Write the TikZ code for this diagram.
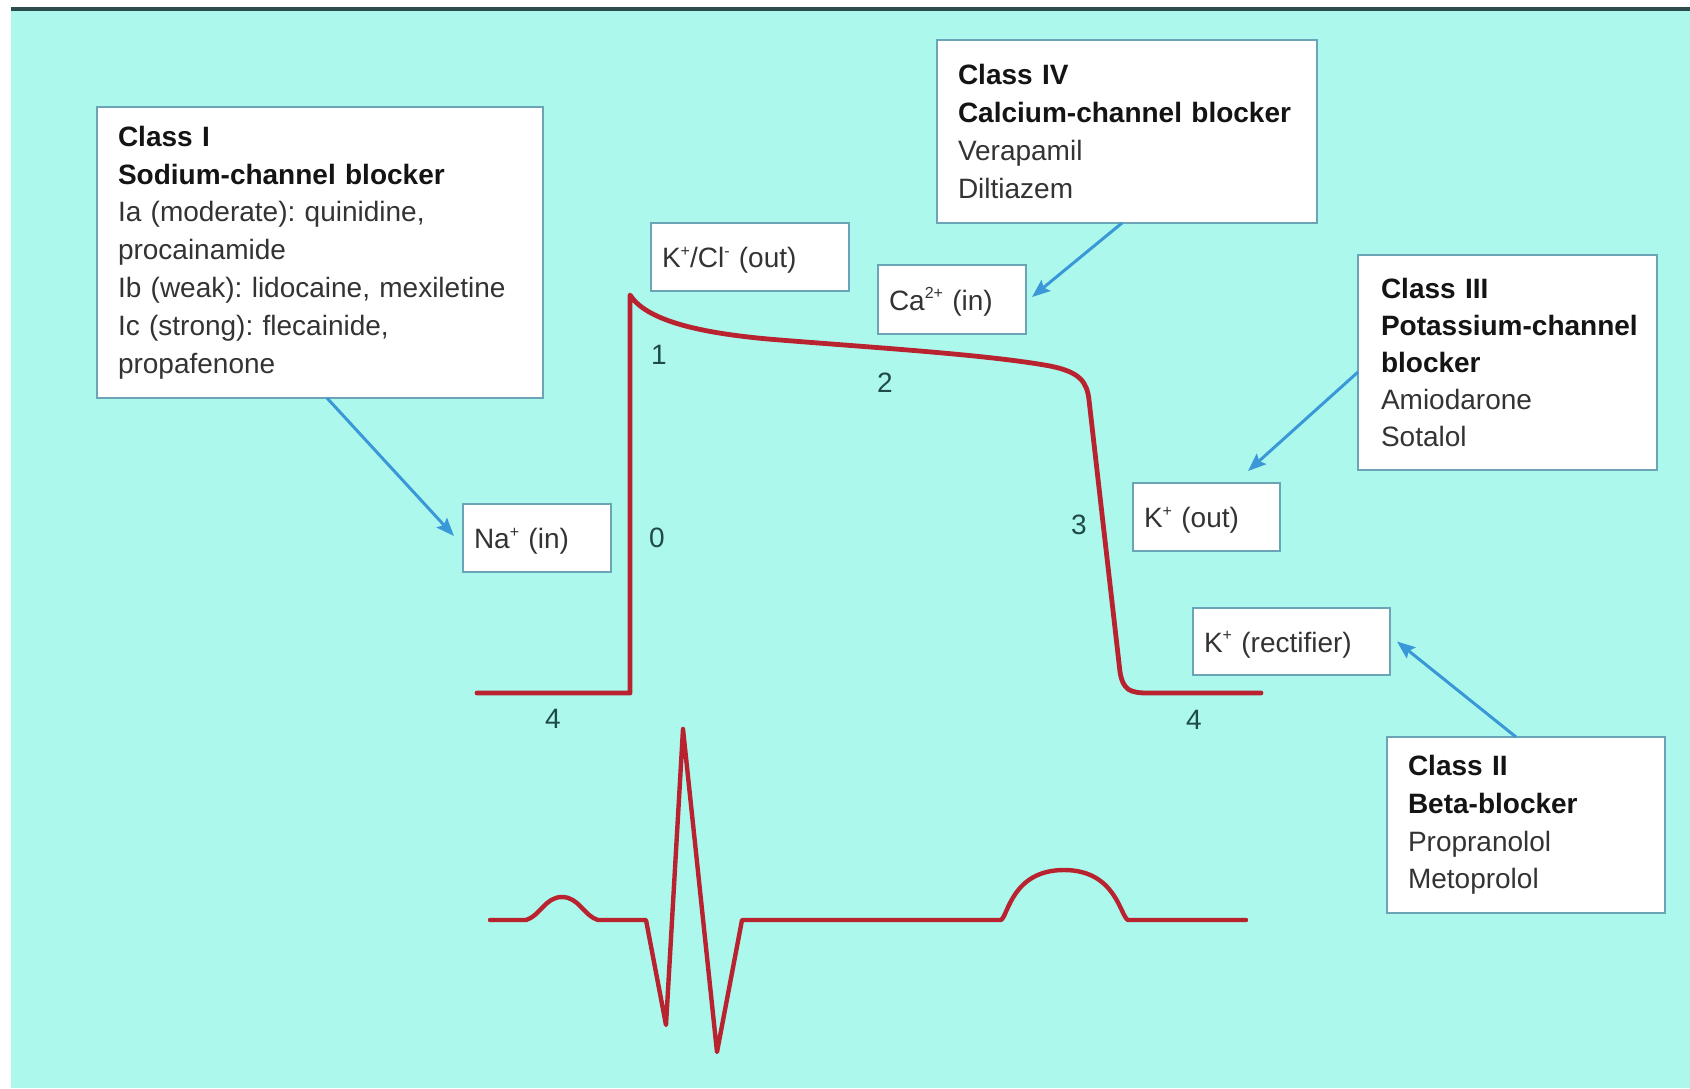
\documentclass[tikz,border=0pt]{standalone}
\usepackage{fontspec}
\setmainfont{Liberation Sans}
\usetikzlibrary{arrows.meta,calc}
\definecolor{bgc}{HTML}{ADF8EC}
\definecolor{topc}{HTML}{2C4B4B}
\definecolor{boxc}{HTML}{6AA4B6}
\definecolor{txtc}{HTML}{333333}
\definecolor{hdc}{HTML}{141414}
\definecolor{numc}{HTML}{1F4A45}
\definecolor{redc}{HTML}{B8232F}
\definecolor{bluec}{HTML}{3A98D8}
\newcommand{\clshead}[1]{{\color{hdc}\bfseries #1}}
\newcommand{\ionsup}[1]{\raisebox{0.75ex}{\fontsize{8}{8}\selectfont #1}}
\frenchspacing
\begin{document}
\frenchspacing
\begin{tikzpicture}[x=0.5pt,y=-0.5pt,
  bigbox/.style={draw=boxc, fill=white, line width=1pt, outer sep=0pt, anchor=north west,
    align=left, inner xsep=10.5pt, inner ysep=0pt, text=txtc,
    font=\fontsize{14}{18.9}\selectfont\frenchspacing},
  ionbox/.style={draw=boxc, fill=white, line width=1pt, outer sep=0pt, anchor=north west,
    align=left, inner xsep=5.5pt, inner ysep=0pt, text=txtc, text height=10.5pt, text depth=0pt,
    font=\fontsize{14}{16}\selectfont},
  lbl/.style={font=\fontsize{14}{16}\selectfont, text=numc, inner sep=0pt},
  arr/.style={draw=bluec, line width=1.5pt, -{Stealth[length=9pt,width=7pt,inset=1.5pt]}},
  wave/.style={draw=redc, line width=2.4pt, line join=round, line cap=round}]
\useasboundingbox (0,0) rectangle (1690,1088);
\fill[white] (0,0) rectangle (1690,1088);
\fill[bgc] (11,11) rectangle (1690,1088);
\fill[topc] (11,7) rectangle (1690,11);

% boxes
\node[bigbox, minimum width=223pt, text width=202pt, minimum height=145.5pt] (c1) at (97,107)
  {\clshead{Class I}\\ \clshead{Sodium-channel blocker}\\ Ia (moderate): quinidine,\\ procainamide\\ Ib (weak): lidocaine, mexiletine\\ Ic (strong): flecainide,\\ propafenone};
\node[bigbox, minimum width=190pt, text width=169pt, minimum height=91.5pt] (c4) at (937,40)
  {\clshead{Class IV}\\ \clshead{Calcium-channel blocker}\\ Verapamil\\ Diltiazem};
\node[bigbox, minimum width=149.5pt, text width=126.5pt, inner xsep=11.5pt, minimum height=107.5pt,
  font=\fontsize{14}{18.4}\selectfont] (c3) at (1358,255)
  {\clshead{Class III}\\ \clshead{\mbox{Potassium-channel}}\\ \clshead{blocker}\\ Amiodarone\\ Sotalol};
\node[bigbox, minimum width=139pt, text width=118pt, minimum height=88pt] (c2) at (1387,737)
  {\clshead{Class II}\\ \clshead{Beta-blocker}\\ Propranolol\\ Metoprolol};

\node[ionbox, minimum width=99pt, text width=88pt, minimum height=34pt] (kcl) at (651,223)
  {K\ionsup{+}/Cl\ionsup{-} (out)};
\node[ionbox, minimum width=74pt, text width=63pt, minimum height=34.5pt] (ca) at (878,265)
  {Ca\ionsup{2+} (in)};
\node[ionbox, minimum width=74pt, text width=63pt, minimum height=34pt] (na) at (463,504)
  {Na\ionsup{+} (in)};
\node[ionbox, minimum width=73.5pt, text width=62.5pt, minimum height=34pt] (kout) at (1133,483)
  {K\ionsup{+} (out)};
\node[ionbox, minimum width=98.5pt, text width=87.5pt, minimum height=33.5pt] (krect) at (1193,608)
  {K\ionsup{+} (rectifier)};

% phase labels
\node[lbl] (n0) at (657,538) {0};
\node[lbl] (n1) at (659,355) {1};
\node[lbl] (n2) at (885,383) {2};
\node[lbl] (n3) at (1079,525) {3};
\node[lbl] (n4a) at (553,719) {4};
\node[lbl] (n4b) at (1194,720) {4};

% action potential
\draw[wave] (477,693) -- (630,693) -- (630,295)
  .. controls (645,318) and (690,333) .. (780,340)
  .. controls (880,348) and (990,355) .. (1050,366)
  .. controls (1080,372) and (1087,382) .. (1089,400)
  -- (1120,672)
  .. controls (1123,690) and (1130,693) .. (1148,693)
  -- (1261,693);

% ECG
\draw[wave, line width=2.2pt] (490,920) -- (526,920)
  .. controls (540,916) and (545,897) .. (562,897)
  .. controls (579,897) and (584,916) .. (598,920)
  -- (646,920) -- (666,1025) -- (683,729) -- (717,1052) -- (742,920)
  -- (1001,920)
  .. controls (1008,916) and (1012,870) .. (1064,870)
  .. controls (1116,870) and (1120,916) .. (1128,920)
  -- (1246,920);

% arrows
\draw[arr] ($(c1.south west)+(230,0)$) -- ($(na.west)+(-9,-2)$);
\draw[arr] ($(c4.south west)+(185,0)$) -- ($(ca.east)+(6,-2.5)$);
\draw[arr] ($(c3.north west)+(0,117)$) -- ($(kout.north)+(41.5,-12)$);
\draw[arr] ($(c2.north west)+(129,0)$) -- ($(krect.east)+(7,0)$);
\end{tikzpicture}
\end{document}
